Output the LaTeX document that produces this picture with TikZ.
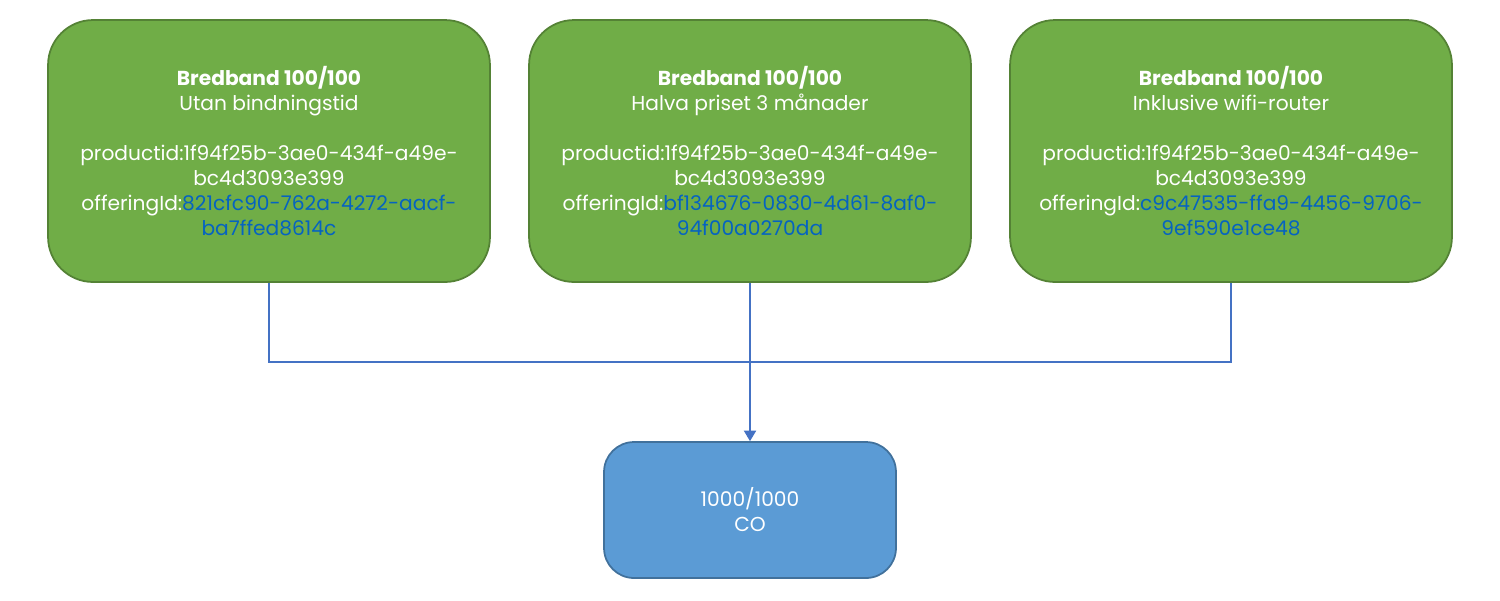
\documentclass[tikz,border=0pt]{standalone}
\usepackage{fontspec}
\setmainfont{Poppins}
\usetikzlibrary{arrows.meta}

\definecolor{offergreen}{HTML}{70AD47}
\definecolor{offerborder}{HTML}{548235}
\definecolor{cofill}{HTML}{5B9BD5}
\definecolor{coborder}{HTML}{41719C}
\definecolor{idblue}{HTML}{0563C1}
\definecolor{linkline}{HTML}{4472C4}

\tikzset{
  offer/.style={draw=offerborder, fill=offergreen, line width=1pt, rounded corners=0.9cm,
    minimum width=8.84cm, minimum height=5.24cm, text=white, align=center,
    font=\fontsize{11.5}{14.2}\selectfont},
  cobox/.style={draw=coborder, fill=cofill, line width=1pt, rounded corners=0.6cm,
    minimum width=5.84cm, minimum height=2.72cm, text=white, align=center,
    font=\fontsize{11.5}{14.2}\selectfont},
  bus/.style={draw=linkline, line width=0.6pt},
}

\newcommand{\offertext}[3]{\textbf{Bredband 100/100}\\#1\\[14.2pt]
  productid:1f94f25b-3ae0-434f-a49e-\\bc4d3093e399\\
  offeringId:\textcolor{idblue}{#2}\\\textcolor{idblue}{#3}}

\begin{document}
\begin{tikzpicture}[x=0.02cm, y=-0.02cm]
  \useasboundingbox (0,0) rectangle (1500,600);
  \node[offer] (offer1) at (269,151) {\offertext{Utan bindningstid}{821cfc90-762a-4272-aacf-}{ba7ffed8614c}};
  \node[offer] (offer2) at (750,151) {\offertext{Halva priset 3 månader}{bf134676-0830-4d61-8af0-}{94f00a0270da}};
  \node[offer] (offer3) at (1231,151) {\offertext{Inklusive wifi-router}{c9c47535-ffa9-4456-9706-}{9ef590e1ce48}};
  \node[cobox] (co) at (750,510) {1000/1000\\CO};
  \coordinate (join) at (750,362);
  \draw[bus] (offer1.south) |- (join) -| (offer3.south);
  \draw[bus, -{Triangle[width=7pt, length=6pt]}] (offer2.south) -- (co.north);
\end{tikzpicture}
\end{document}
